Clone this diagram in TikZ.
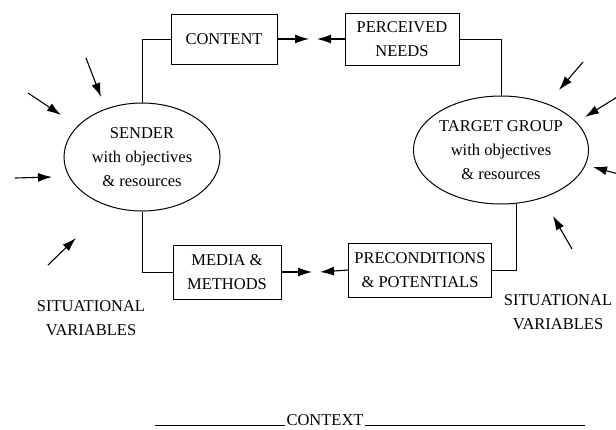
\documentclass[tikz,border=0pt]{standalone}
\usepackage{fontspec}
\setmainfont{Liberation Serif}
\usetikzlibrary{shapes.geometric, arrows.meta}
\newcommand{\diagfont}{\fontsize{16.5}{24}\selectfont}

\begin{document}
\begin{tikzpicture}[x=1pt, y=-1pt,
    box/.style={rectangle, draw, line width=1pt, inner sep=1pt, align=center, font=\diagfont},
    party/.style={ellipse, draw, line width=1pt, inner sep=0pt, align=center, font=\diagfont, minimum width=156pt, minimum height=108pt},
    sitlabel/.style={align=center, font=\diagfont},
    link/.style={line width=1pt},
    arrow/.style={-{Latex[length=14pt,width=9pt]}, line width=1.1pt}
]
\useasboundingbox (0,0) rectangle (616,429);

\node[party] (sender) at (142,157) {SENDER\\with objectives\\\& resources};
\node[party] (target) at (501,150) {TARGET GROUP\\with objectives\\\& resources};

\node[box, minimum width=106pt, minimum height=50pt] (content) at (224,39) {CONTENT};
\node[box, minimum width=114pt, minimum height=52pt] (needs) at (402,39) {PERCEIVED\\NEEDS};
\node[box, minimum width=108pt, minimum height=54pt] (media) at (227,272) {MEDIA \&\\METHODS};
\node[box, minimum width=143pt, minimum height=54pt] (precond) at (420,270) {PRECONDITIONS\\\& POTENTIALS};

\node[sitlabel] (sitleft) at (91,318) {SITUATIONAL\\VARIABLES};
\node[sitlabel] (sitright) at (558,312) {SITUATIONAL\\VARIABLES};

\node[font=\diagfont, inner sep=1pt, anchor=base] (context) at (325,425) {CONTEXT};
\coordinate (ctxleft) at (155,425);
\coordinate (ctxright) at (585,425);

\coordinate (toptip) at (309,39);
\coordinate (topback) at (317,39);
\coordinate (bottip) at (312,272);
\coordinate (botback) at (320,272);

% links to the two parties
\draw[link] (content.west) -| (sender.north);
\draw[link] (sender.south) |- (media.west);
\draw[link] (needs.east) -| (target.north);
\draw[link] (precond.east) -| (target.-74);

\draw[arrow] (content.east) -- (toptip);
\draw[arrow] (needs.west) -- (topback);
\draw[arrow] (media.east) -- (bottip);
\draw[arrow] (precond.west) -- (botback);

% situational variables
\draw[arrow] (86,58) -- (101,97);
\draw[arrow] (28,93) -- (61,115);
\draw[arrow] (15,178) -- (52,177);
\draw[arrow] (48,265) -- (76,238);
\draw[arrow] (583,62) -- (559,90);
\draw[arrow] (622,94) -- (585,117);
\draw[arrow] (622,175) -- (593,167);
\draw[arrow] (572,249) -- (553,216);

\draw[link] (ctxleft) -- (context.base west);
\draw[link] (context.base east) -- (ctxright);

\end{tikzpicture}
\end{document}
